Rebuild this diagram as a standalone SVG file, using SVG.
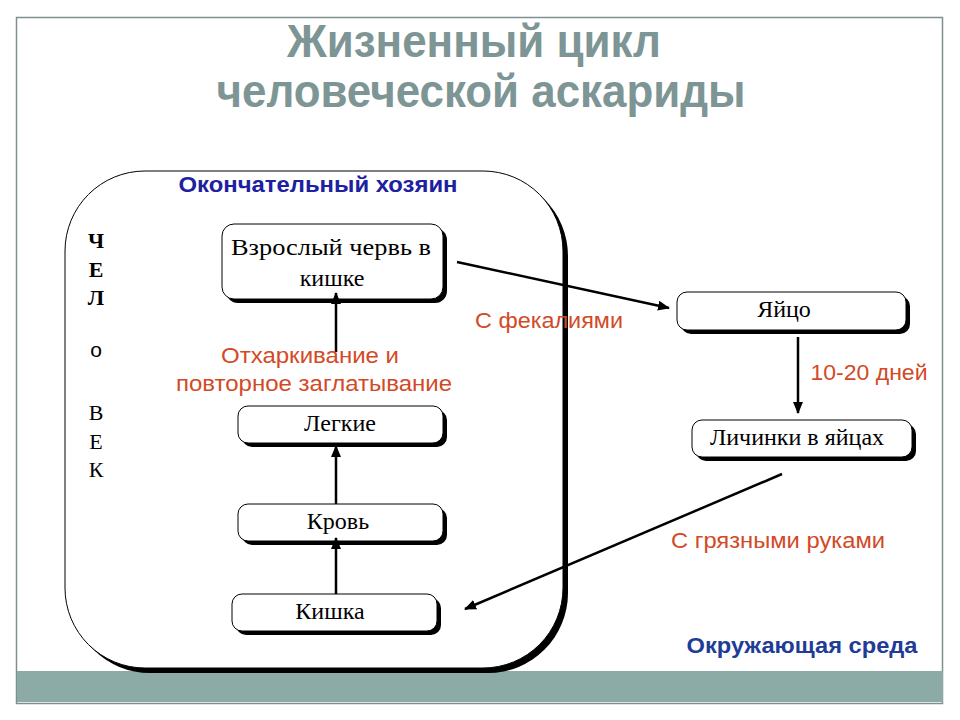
<svg xmlns="http://www.w3.org/2000/svg" width="960" height="720" viewBox="0 0 960 720">
<defs>
<style>
.title{font-family:"Liberation Sans",Arial,sans-serif;font-weight:bold;font-size:46px;fill:#7d9595}
.node{font-family:"Liberation Serif","Times New Roman",serif;font-size:24px;fill:#000;text-anchor:middle}
.red{font-family:"Liberation Sans",Arial,sans-serif;font-size:22px;fill:#d24a26;text-anchor:middle}
.blue{font-family:"Liberation Sans",Arial,sans-serif;font-size:22px;font-weight:bold;text-anchor:middle}
.let{font-family:"Liberation Serif","Times New Roman",serif;font-size:22px;fill:#000;text-anchor:middle}
.box{fill:#fff;stroke:#000;stroke-width:1}
.shadow{fill:#000}
.conn{stroke:#000;stroke-width:2.5;fill:none;marker-end:url(#ah)}
</style>
<marker id="ah" markerUnits="userSpaceOnUse" markerWidth="12" markerHeight="10" refX="11" refY="5" orient="auto">
<path d="M0,0 L12,5 L0,10 Z" fill="#000"/>
</marker>
</defs>
<rect x="0" y="0" width="960" height="720" fill="#fff"/>
<rect x="16.5" y="17.5" width="926" height="686" fill="#fff" stroke="#7f8f8f" stroke-width="1.5"/>
<rect x="17" y="671" width="926" height="31" fill="#8cabA6"/>

<g id="title">
<text class="title" x="474" y="57" text-anchor="middle" textLength="374" lengthAdjust="spacingAndGlyphs">Жизненный цикл</text>
<text class="title" x="481" y="107" text-anchor="middle" textLength="529" lengthAdjust="spacingAndGlyphs">человеческой аскариды</text>
</g>

<g id="host">
<rect class="shadow" x="70" y="176" width="498" height="497" rx="80"/>
<rect class="box" x="65" y="171" width="498" height="497" rx="80"/>
<text class="blue" x="318" y="192" fill="#1d20a0" textLength="279" lengthAdjust="spacingAndGlyphs">Окончательный хозяин</text>
</g>

<g id="human-label">
<text class="let" x="96" y="248" font-weight="bold">Ч</text>
<text class="let" x="96" y="277" font-weight="bold">Е</text>
<text class="let" x="96" y="305" font-weight="bold">Л</text>
<text x="96" y="357" text-anchor="middle" font-family="Liberation Sans, Arial, sans-serif" font-size="21">о</text>
<text class="let" x="96" y="420">В</text>
<text class="let" x="96" y="449">Е</text>
<text class="let" x="96" y="477">К</text>
</g>

<g id="adult">
<rect class="shadow" x="226" y="228" width="221" height="75" rx="12"/>
<rect class="box" x="222" y="224" width="221" height="75" rx="12"/>
<text class="node" x="331" y="255" font-size="26" textLength="200" lengthAdjust="spacingAndGlyphs">Взрослый червь в</text>
<text class="node" x="332" y="286" font-size="26">кишке</text>
</g>

<g id="lungs">
<rect class="shadow" x="242" y="410" width="205" height="37" rx="10"/>
<rect class="box" x="238" y="406" width="205" height="37" rx="10"/>
<text class="node" x="340" y="431">Легкие</text>
</g>

<g id="blood">
<rect class="shadow" x="242" y="508" width="205" height="37" rx="10"/>
<rect class="box" x="238" y="504" width="205" height="37" rx="10"/>
<text class="node" x="338" y="529">Кровь</text>
</g>

<g id="intestine">
<rect class="shadow" x="236" y="598" width="205" height="37" rx="10"/>
<rect class="box" x="232" y="594" width="205" height="37" rx="10"/>
<text class="node" x="330" y="619">Кишка</text>
</g>

<g id="egg">
<rect class="shadow" x="681" y="296" width="229" height="38" rx="10"/>
<rect class="box" x="677" y="292" width="229" height="38" rx="10"/>
<text class="node" x="784" y="317">Яйцо</text>
</g>

<g id="larvae">
<rect class="shadow" x="696" y="424" width="220" height="37" rx="10"/>
<rect class="box" x="692" y="420" width="220" height="37" rx="10"/>
<text class="node" x="797" y="445">Личинки в яйцах</text>
</g>

<g id="connectors">
<line class="conn" x1="336" y1="594" x2="336" y2="538"/>
<line class="conn" x1="336" y1="504" x2="336" y2="446"/>
<line class="conn" x1="336" y1="352" x2="336" y2="293"/>
<line class="conn" x1="457" y1="262" x2="669" y2="308"/>
<line class="conn" x1="798" y1="337" x2="798" y2="413"/>
<line class="conn" x1="782" y1="474" x2="465" y2="609"/>
</g>

<g id="labels">
<text class="red" x="310" y="363" textLength="178" lengthAdjust="spacingAndGlyphs">Отхаркивание и</text>
<text class="red" x="314" y="391" textLength="276" lengthAdjust="spacingAndGlyphs">повторное заглатывание</text>
<text class="red" x="549" y="328" textLength="148" lengthAdjust="spacingAndGlyphs">С фекалиями</text>
<text class="red" x="869" y="380" textLength="117" lengthAdjust="spacingAndGlyphs">10-20 дней</text>
<text class="red" x="778" y="548" textLength="214" lengthAdjust="spacingAndGlyphs">С грязными руками</text>
<text class="blue" x="802" y="653" fill="#1f3c96" textLength="231" lengthAdjust="spacingAndGlyphs">Окружающая среда</text>
</g>
</svg>
